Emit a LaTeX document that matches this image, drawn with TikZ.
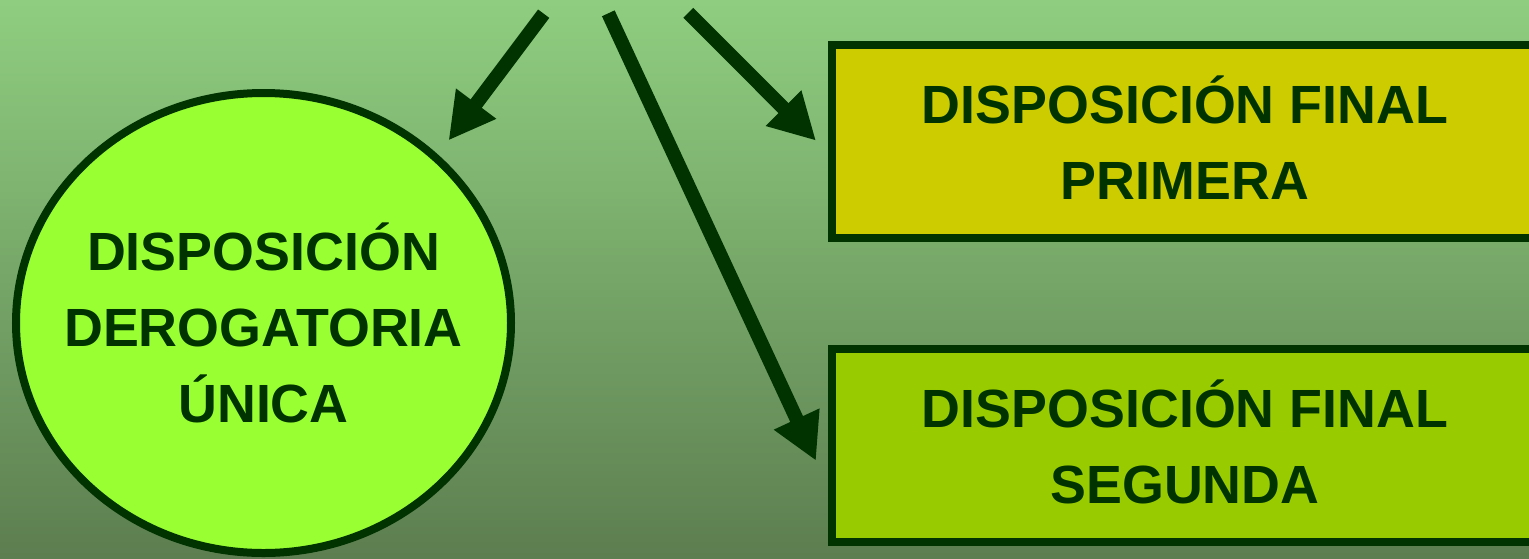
\documentclass[tikz,border=0pt]{standalone}
\usepackage{fontspec}
\setmainfont{Liberation Sans}
\usepackage{tikz}
\usetikzlibrary{arrows.meta}
\usetikzlibrary{shapes.geometric}
\definecolor{dkgreen}{HTML}{003300}
\definecolor{bgtop}{RGB}{143,206,128}
\definecolor{bgbottom}{RGB}{93,126,80}
\definecolor{limefill}{HTML}{99FF33}
\definecolor{dfpyellow}{HTML}{CCCC00}
\definecolor{dfsgreen}{HTML}{99CC00}
\tikzset{
    lbl/.style={text=dkgreen, font=\bfseries\fontsize{53.8pt}{76pt}\selectfont, align=center},
    box/.style={draw=dkgreen, line width=8pt, minimum width=706pt, minimum height=193pt, inner sep=0pt, text depth=7pt},
    bigarrow/.style={draw=dkgreen, line width=14pt, -{Triangle[width=47pt,length=46pt]}}
}

\begin{document}
\begin{tikzpicture}[x=1pt,y=-1pt]
        \useasboundingbox (0,0) rectangle (1529,558);
        \clip (0,0) rectangle (1529,558);
        \shade[top color=bgtop, bottom color=bgbottom] (0,0) rectangle (1529,558);

        \node[ellipse, draw=dkgreen, line width=8pt, fill=limefill, minimum width=495pt, minimum height=460pt, inner sep=0pt] (dd) at (263.5,323) {};
        \node[lbl] (ddtext) at (dd.center) {DISPOSICIÓN\\DEROGATORIA\\ÚNICA};
        \node[box, fill=dfpyellow, lbl] (dfp) at (1185,141.5) {DISPOSICIÓN FINAL\\PRIMERA};
        \node[box, fill=dfsgreen, lbl] (dfs) at (1185,445) {DISPOSICIÓN FINAL\\SEGUNDA};

        \coordinate (src1) at (543.7,13.7);
        \coordinate (src2) at (608.3,13.3);
        \coordinate (src3) at (688.3,12.8);

        \draw[bigarrow, shorten >=17.6pt] (src1) -- (dd.44);
        \draw[bigarrow, shorten >=28.5pt] (src2) -- ([yshift=-41.6pt]dfs.west);
        \draw[bigarrow, shorten >=17pt] (src3) -- ([yshift=-11.2pt]dfp.west);
    \end{tikzpicture}
\end{document}
